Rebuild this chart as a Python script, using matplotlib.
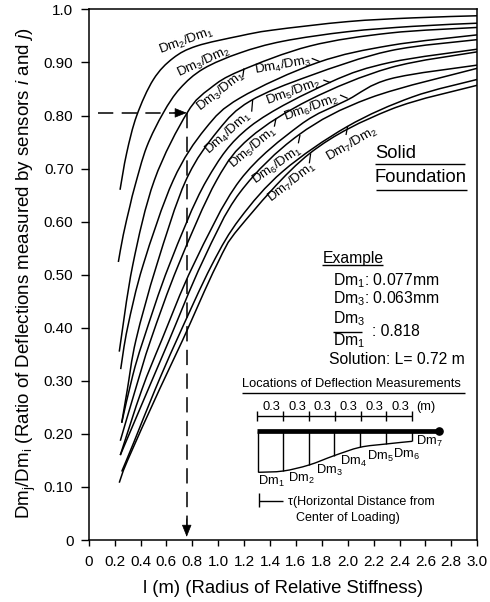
import numpy as np
import matplotlib
matplotlib.use("Agg")
import matplotlib.pyplot as plt
from matplotlib.path import Path
from matplotlib.patches import PathPatch

plt.rcParams['font.family'] = ['Liberation Sans', 'DejaVu Sans']
plt.rcParams['mathtext.fontset'] = 'custom'
plt.rcParams['mathtext.rm'] = 'Liberation Sans'
plt.rcParams['mathtext.it'] = 'Liberation Sans:italic'
plt.rcParams['mathtext.default'] = 'regular'

# curves (l, ratio)
l1 = [0.242, 0.293, 0.371, 0.5, 0.651, 0.834, 1.168, 1.42, 2.0, 2.5, 3.0]
r1 = [0.66, 0.729, 0.80, 0.868, 0.908, 0.931, 0.95, 0.961, 0.977, 0.984, 0.988]
l2 = [0.229, 0.267, 0.319, 0.358, 0.448, 0.576, 0.705, 0.885, 1.168, 1.5, 2.0, 2.5, 3.0]
r2 = [0.524, 0.575, 0.63, 0.668, 0.741, 0.805, 0.851, 0.888, 0.918, 0.94, 0.958, 0.968, 0.974]
l3 = [0.236, 0.34, 0.507, 0.76, 0.937, 1.168, 1.709, 2.327, 3.0]
r3 = [0.355, 0.518, 0.678, 0.805, 0.851, 0.884, 0.931, 0.9555, 0.966]
l4 = [0.247, 0.30, 0.42, 0.653, 0.90, 1.168, 1.77, 2.327, 3.0]
r4 = [0.322, 0.40, 0.518, 0.678, 0.775, 0.833, 0.90, 0.932, 0.952]
l5 = [0.255, 0.298, 0.365, 0.525, 0.751, 1.0, 1.245, 1.709, 2.327, 3.0]
r5 = [0.221, 0.283, 0.377, 0.518, 0.678, 0.772, 0.827, 0.875, 0.922, 0.943]
l6 = [0.255, 0.34, 0.422, 0.622, 0.911, 1.245, 1.863, 2.327, 3.0]
r6 = [0.221, 0.31, 0.377, 0.518, 0.678, 0.779, 0.8625, 0.90, 0.925]
l7 = [0.244, 0.36, 0.479, 0.692, 0.988, 1.245, 1.709, 2.327, 3.0]
r7 = [0.187, 0.283, 0.377, 0.518, 0.678, 0.758, 0.83, 0.89, 0.92]
l8 = [0.244, 0.41, 0.564, 0.808, 1.168, 1.632, 1.995, 2.327, 3.0]
r8 = [0.16, 0.283, 0.377, 0.518, 0.678, 0.782, 0.829, 0.869, 0.895]
l9 = [0.244, 0.47, 0.622, 0.88, 1.168, 1.619, 2.17, 3.0]
r9 = [0.16, 0.29, 0.377, 0.525, 0.655, 0.763, 0.833, 0.889]
l10 = [0.255, 0.35, 0.512, 0.68, 0.95, 1.168, 1.5, 1.995, 2.5, 3.0]
r10 = [0.129, 0.185, 0.283, 0.377, 0.518, 0.606, 0.695, 0.779, 0.835, 0.868]
l11 = [0.236, 0.3, 0.545, 0.726, 0.988, 1.168, 1.709, 2.327, 3.0]
r11 = [0.108, 0.15, 0.283, 0.377, 0.518, 0.59, 0.729, 0.811, 0.857]
curves = [(l1, r1), (l2, r2), (l3, r3), (l4, r4), (l5, r5), (l6, r6),
          (l7, r7), (l8, r8), (l9, r9), (l10, r10), (l11, r11)]

example_l = 0.757
example_ratio = 0.805

x_ticks = np.arange(0, 3.01, 0.2)
x_labels = ["0", "0.2", "0.4", "0.6", "0.8", "1.0", "1.2", "1.4", "1.6", "1.8", "2.0", "2.2", "2.4", "2.6", "2.8", "3.0"]
y_ticks = np.arange(0, 1.01, 0.1)
y_labels = ["0", "0.10", "0.20", "0.30", "0.40", "0.50", "0.60", "0.70", "0.80", "0.90", "1.0"]

# label, centre in image pixels, rotation
curve_labels = [("Dm$_2$/Dm$_1$", 186, 40.7, 20), ("Dm$_3$/Dm$_2$", 204, 61.7, 25),
                ("Dm$_3$/Dm$_1$", 220.7, 91.7, 38), ("Dm$_4$/Dm$_3$", 282.7, 65.7, 10),
                ("Dm$_4$/Dm$_1$", 228, 133, 42), ("Dm$_5$/Dm$_2$", 293, 91.7, 20),
                ("Dm$_5$/Dm$_1$", 253, 148, 40), ("Dm$_6$/Dm$_2$", 311.7, 108, 20),
                ("Dm$_6$/Dm$_1$", 276.7, 165, 35), ("Dm$_7$/Dm$_2$", 351.7, 144, 30),
                ("Dm$_7$/Dm$_1$", 291.7, 182.7, 38)]
# little leader lines from labels to curves, zoomed picture coords
leaders = [(488, 232, 492, 205), (695, 175, 720, 185), (730, 240, 752, 248), (780, 285, 803, 295),
           (515, 335, 518, 300), (583, 380, 588, 355), (655, 430, 660, 405), (798, 405, 803, 378),
           (688, 490, 692, 460)]

spacing_labels = ["0.3"] * 6
sensor_names = ["Dm$_1$", "Dm$_2$", "Dm$_3$", "Dm$_4$", "Dm$_5$", "Dm$_6$", "Dm$_7$"]
sensor_x = [258.3, 288.3, 315.7, 340, 366.7, 393.3, 416]
sensor_y = [481, 478.3, 470.7, 461.7, 456.7, 454, 441.7]
bowl_x = [258.3, 283.3, 309, 334, 360, 386, 412.3]
bowl_y = [472.3, 471, 465, 455.7, 447.3, 444, 441.3]


def px(x, y):
    # image pixels to data coords
    return (x - 88.7) / 129.5, (540 - y) / 530.6


def smooth_path(xs, ys):
    # catmull-rom through the read points, as bezier segments
    p = np.column_stack([xs, ys])
    q = np.vstack([p[0], p, p[-1]])
    verts = [p[0]]
    codes = [Path.MOVETO]
    for i in range(1, len(q) - 2):
        verts += [q[i] + (q[i + 1] - q[i - 1]) / 6, q[i + 1] - (q[i + 2] - q[i]) / 6, q[i + 1]]
        codes += [Path.CURVE4] * 3
    return Path(verts, codes)


def line(ax, x0, y0, x1, y1, lw=1.0):
    a, b = px(x0, y0), px(x1, y1)
    ax.plot([a[0], b[0]], [a[1], b[1]], color="black", lw=lw, clip_on=False, solid_capstyle="butt")


def label(ax, x, y, s, size=11, ha="left"):
    a = px(x, y)
    ax.text(a[0], a[1], s, fontsize=size, ha=ha, va="center")


fig = plt.figure(figsize=(4.9, 6.02), dpi=100)
ax = fig.add_axes([88.7 / 490, 62 / 602, 388.5 / 490, 530.6 / 602])
ax.set_xlim(0, 3)
ax.set_ylim(0, 1)

for xs, ys in curves:
    ax.add_patch(PathPatch(smooth_path(xs, ys), fill=False, edgecolor="black", lw=1.1))

ax.set_xticks(x_ticks)
ax.set_xticklabels(x_labels)
ax.set_yticks(y_ticks)
ax.set_yticklabels(y_labels)
ax.tick_params(axis="x", length=4.5, width=1.0, labelsize=11, pad=6)
ax.tick_params(axis="y", length=6, width=1.0, labelsize=11, pad=5)
for s in ax.spines.values():
    s.set_linewidth(1.1)
ax.set_xlabel("l (m) (Radius of Relative Stiffness)", fontsize=13.3, labelpad=8)
ax.set_ylabel(r"Dm$_j$/Dm$_i$ (Ratio of Deflections measured by sensors $\mathit{i}$ and $\mathit{j}$)",
              fontsize=13.5, labelpad=4, y=0.503)

# worked example, dashed
ax.plot([0.07, example_l - 0.07], [example_ratio, example_ratio], color="black", lw=1.1, dashes=(10, 5.5))
ax.plot([example_l, example_l], [example_ratio, 0.025], color="black", lw=1.1, dashes=(10, 5.5))
head = dict(arrowstyle="-|>,head_length=0.7,head_width=0.28", color="black", lw=0.5,
            shrinkA=0, shrinkB=0, mutation_scale=11)
ax.annotate("", xy=(example_l, example_ratio), xytext=(example_l - 0.1, example_ratio), arrowprops=head)
ax.annotate("", xy=(example_l, 0.006), xytext=(example_l, 0.04), arrowprops=head)

for s, x, y, rot in curve_labels:
    a = px(x, y)
    ax.text(a[0], a[1], s, fontsize=9.5, ha="center", va="center", rotation=rot)
for x0, y0, x1, y1 in leaders:
    line(ax, x0 / 3 + 80, y0 / 3, x1 / 3 + 80, y1 / 3, lw=0.9)

# solid foundation box
label(ax, 375, 153, "Solid", 13.2)
line(ax, 375, 164.3, 465, 164.3)
label(ax, 375, 177, "Foundation", 13.2)
line(ax, 376, 190, 467, 190)

# example text
label(ax, 322.3, 259, "Example", 11.3)
line(ax, 322, 264.5, 383, 264.5)
label(ax, 332.7, 280.7, "Dm$_1$: 0.077mm", 11.3)
label(ax, 332.7, 299, "Dm$_3$: 0.063mm", 11.3)
label(ax, 332.7, 319, "Dm$_3$", 11.3)
line(ax, 332.7, 332, 361.7, 332)
label(ax, 332.7, 340.7, "Dm$_1$", 11.3)
label(ax, 371.7, 331, ": 0.818", 11.3)
label(ax, 329.3, 360, "Solution: L= 0.72 m", 11.3)

# sensor diagram
label(ax, 241.7, 384, "Locations of Deflection Measurements", 9.3)
line(ax, 242, 393, 465, 393)
scale_x = np.linspace(257.3, 412.3, 7)
line(ax, scale_x[0], 416, scale_x[-1], 416)
for x in scale_x:
    line(ax, x, 411, x, 420.7)
for x0, x1, s in zip(scale_x[:-1], scale_x[1:], spacing_labels):
    label(ax, (x0 + x1) / 2 + 1, 406.7, s, 9.3, ha="center")
label(ax, 416, 406.7, "(m)", 9.3)

line(ax, 257.3, 431, 439, 431, lw=3.4)
a = px(439.3, 431)
ax.plot([a[0]], [a[1]], "o", color="black", ms=5.2, clip_on=False)
for x, y in zip(bowl_x, bowl_y):
    line(ax, x, 431, x, y)
ax.add_patch(PathPatch(smooth_path(*zip(*[px(x, y) for x, y in zip(bowl_x, bowl_y)])),
                       fill=False, edgecolor="black", lw=1.0))
for x, y, s in zip(sensor_x, sensor_y, sensor_names):
    label(ax, x, y, s, 9.3)

line(ax, 259, 493, 259, 507)
line(ax, 259, 500.7, 283, 500.7)
label(ax, 288, 501.7, "τ(Horizontal Distance from", 9)
label(ax, 295.7, 517.7, "Center of Loading)", 9)

plt.savefig("out.png", dpi=100)
